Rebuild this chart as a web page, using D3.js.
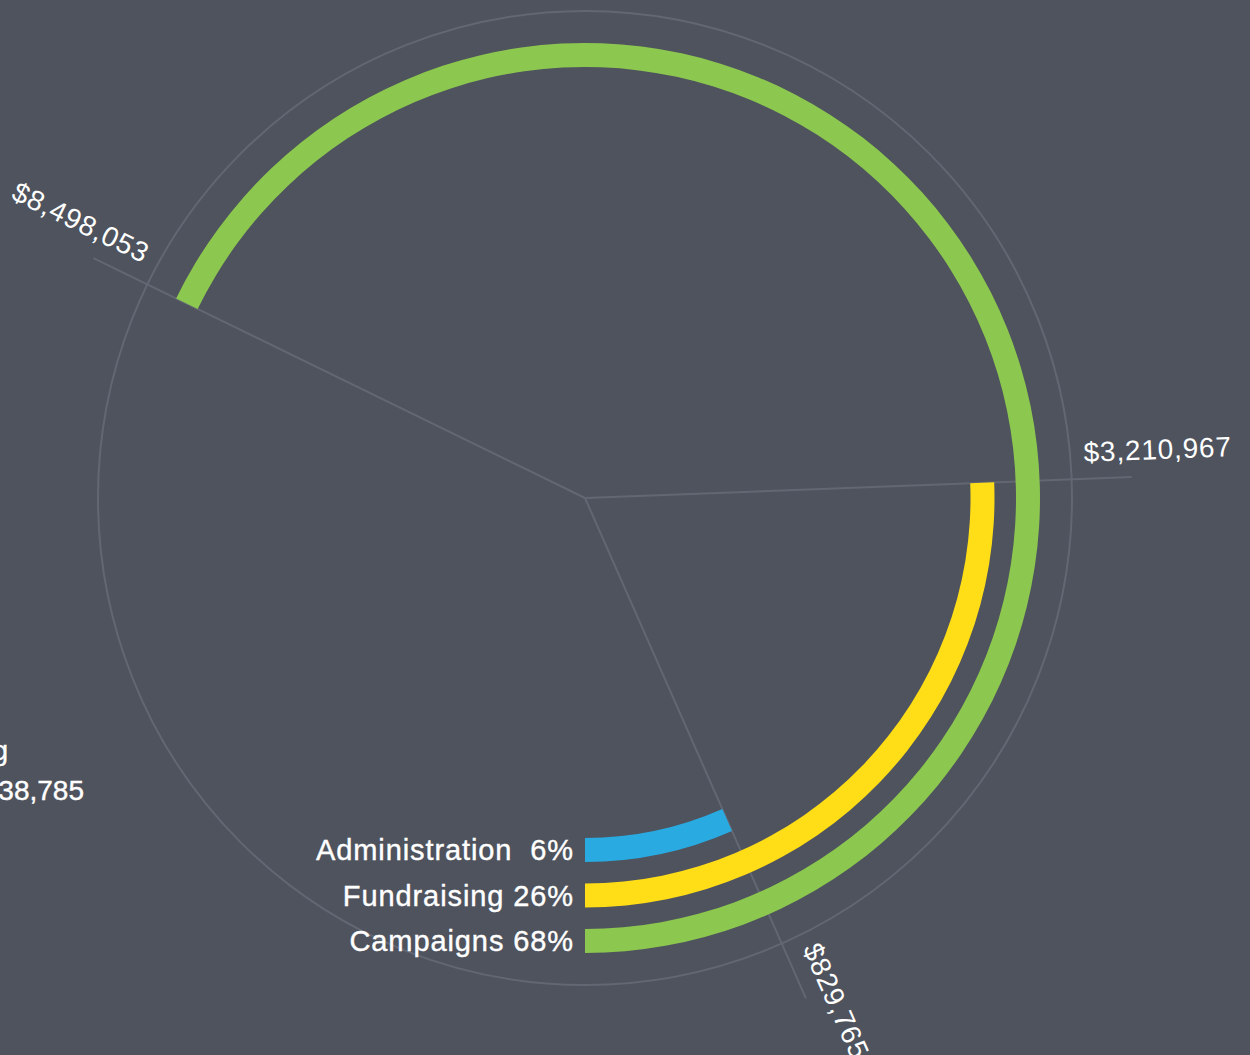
<!DOCTYPE html>
<html>
<head>
<meta charset="utf-8">
<script src="https://cdn.jsdelivr.net/npm/d3@7"></script>
<style>
  html, body { margin: 0; padding: 0; background: #4e535d; overflow: hidden; }
  text { font-family: "Liberation Sans", Arial, sans-serif; fill: #ffffff; }
</style>
</head>
<body>
<div id="chart"></div>
<script>
// spending breakdown
var categories = ["Campaigns", "Fundraising", "Administration"];
var values = [8498053, 3210967, 829765];
var percents = ["68%", "26%", "6%"];
var legendText = ["Campaigns 68%", "Fundraising 26%", "Administration  6%"];
var colours = ["#8cc74f", "#ffdd17", "#29abe2"];
var totalLabel = ["Total spending", "$12,538,785"];

var width = 1250;
var height = 1055;
var cx = 585, cy = 498;

var total = d3.sum(values);

var svg = d3.select("#chart")
  .append("svg")
  .attr("width", width)
  .attr("height", height);

var g = svg.append("g").attr("transform", `translate(${cx},${cy})`);

// value -> angle, arcs run anticlockwise from the bottom
var angle = d3.scaleLinear().domain([0, total]).range([Math.PI, -Math.PI]);
var ring = d3.scalePoint().domain(categories).range([443, 352]);
var thickness = 24;

var arc = d3.arc()
  .innerRadius((d) => ring(d.cat) - thickness / 2)
  .outerRadius((d) => ring(d.cat) + thickness / 2)
  .startAngle((d) => angle(d.value))
  .endAngle(Math.PI);

var rows = categories.map((c, i) => ({ cat: c, value: values[i], colour: colours[i], legend: legendText[i] }));

// outer guide circle
g.append("circle")
  .attr("r", 487)
  .attr("fill", "none")
  .attr("stroke", "#626773")
  .attr("stroke-width", 2);

// radial lines at each arc end
g.selectAll("line.spoke")
  .data(rows)
  .join("line")
  .attr("class", "spoke")
  .attr("x1", 0)
  .attr("y1", 0)
  .attr("x2", (d) => 547 * Math.sin(angle(d.value)))
  .attr("y2", (d) => -547 * Math.cos(angle(d.value)))
  .attr("stroke", "#626773")
  .attr("stroke-width", 2);

g.selectAll("path.ring")
  .data(rows)
  .join("path")
  .attr("class", "ring")
  .attr("d", arc)
  .attr("fill", (d) => d.colour);

// value labels along the spokes
var fmt = d3.format("$,");
g.selectAll("g.vlabel")
  .data(rows)
  .join("g")
  .attr("class", "vlabel")
  .attr("transform", (d) => {
    var deg = angle(d.value) * 180 / Math.PI;
    var left = Math.sin(angle(d.value)) < 0;
    return `rotate(${deg - 90}) translate(500,0)` + (left ? " rotate(180)" : "");
  })
  .append("text")
  .attr("y", -17)
  .attr("text-anchor", (d) => Math.sin(angle(d.value)) < 0 ? "end" : "start")
  .style("font-size", "28px")
  .style("letter-spacing", "0.8px")
  .text((d) => fmt(d.value));

// legend at the arc starts
g.selectAll("text.legend")
  .data(rows)
  .join("text")
  .attr("class", "legend")
  .attr("x", -11)
  .attr("y", (d) => ring(d.cat) + 10)
  .attr("text-anchor", "end")
  .style("font-size", "29px")
  .style("letter-spacing", "0.9px")
  .style("stroke", "#ffffff")
  .style("stroke-width", "0.4px")
  .style("white-space", "pre")
  .text((d) => d.legend);

// total, mostly off the left edge
svg.selectAll("text.total")
  .data(totalLabel)
  .join("text")
  .attr("class", "total")
  .attr("x", (d, i) => i == 0 ? 8 : 84)
  .attr("y", (d, i) => 760 + i * 40)
  .attr("text-anchor", "end")
  .style("font-size", "28px")
  .style("stroke", "#ffffff")
  .style("stroke-width", "0.4px")
  .text((d) => d);
</script>
</body>
</html>
